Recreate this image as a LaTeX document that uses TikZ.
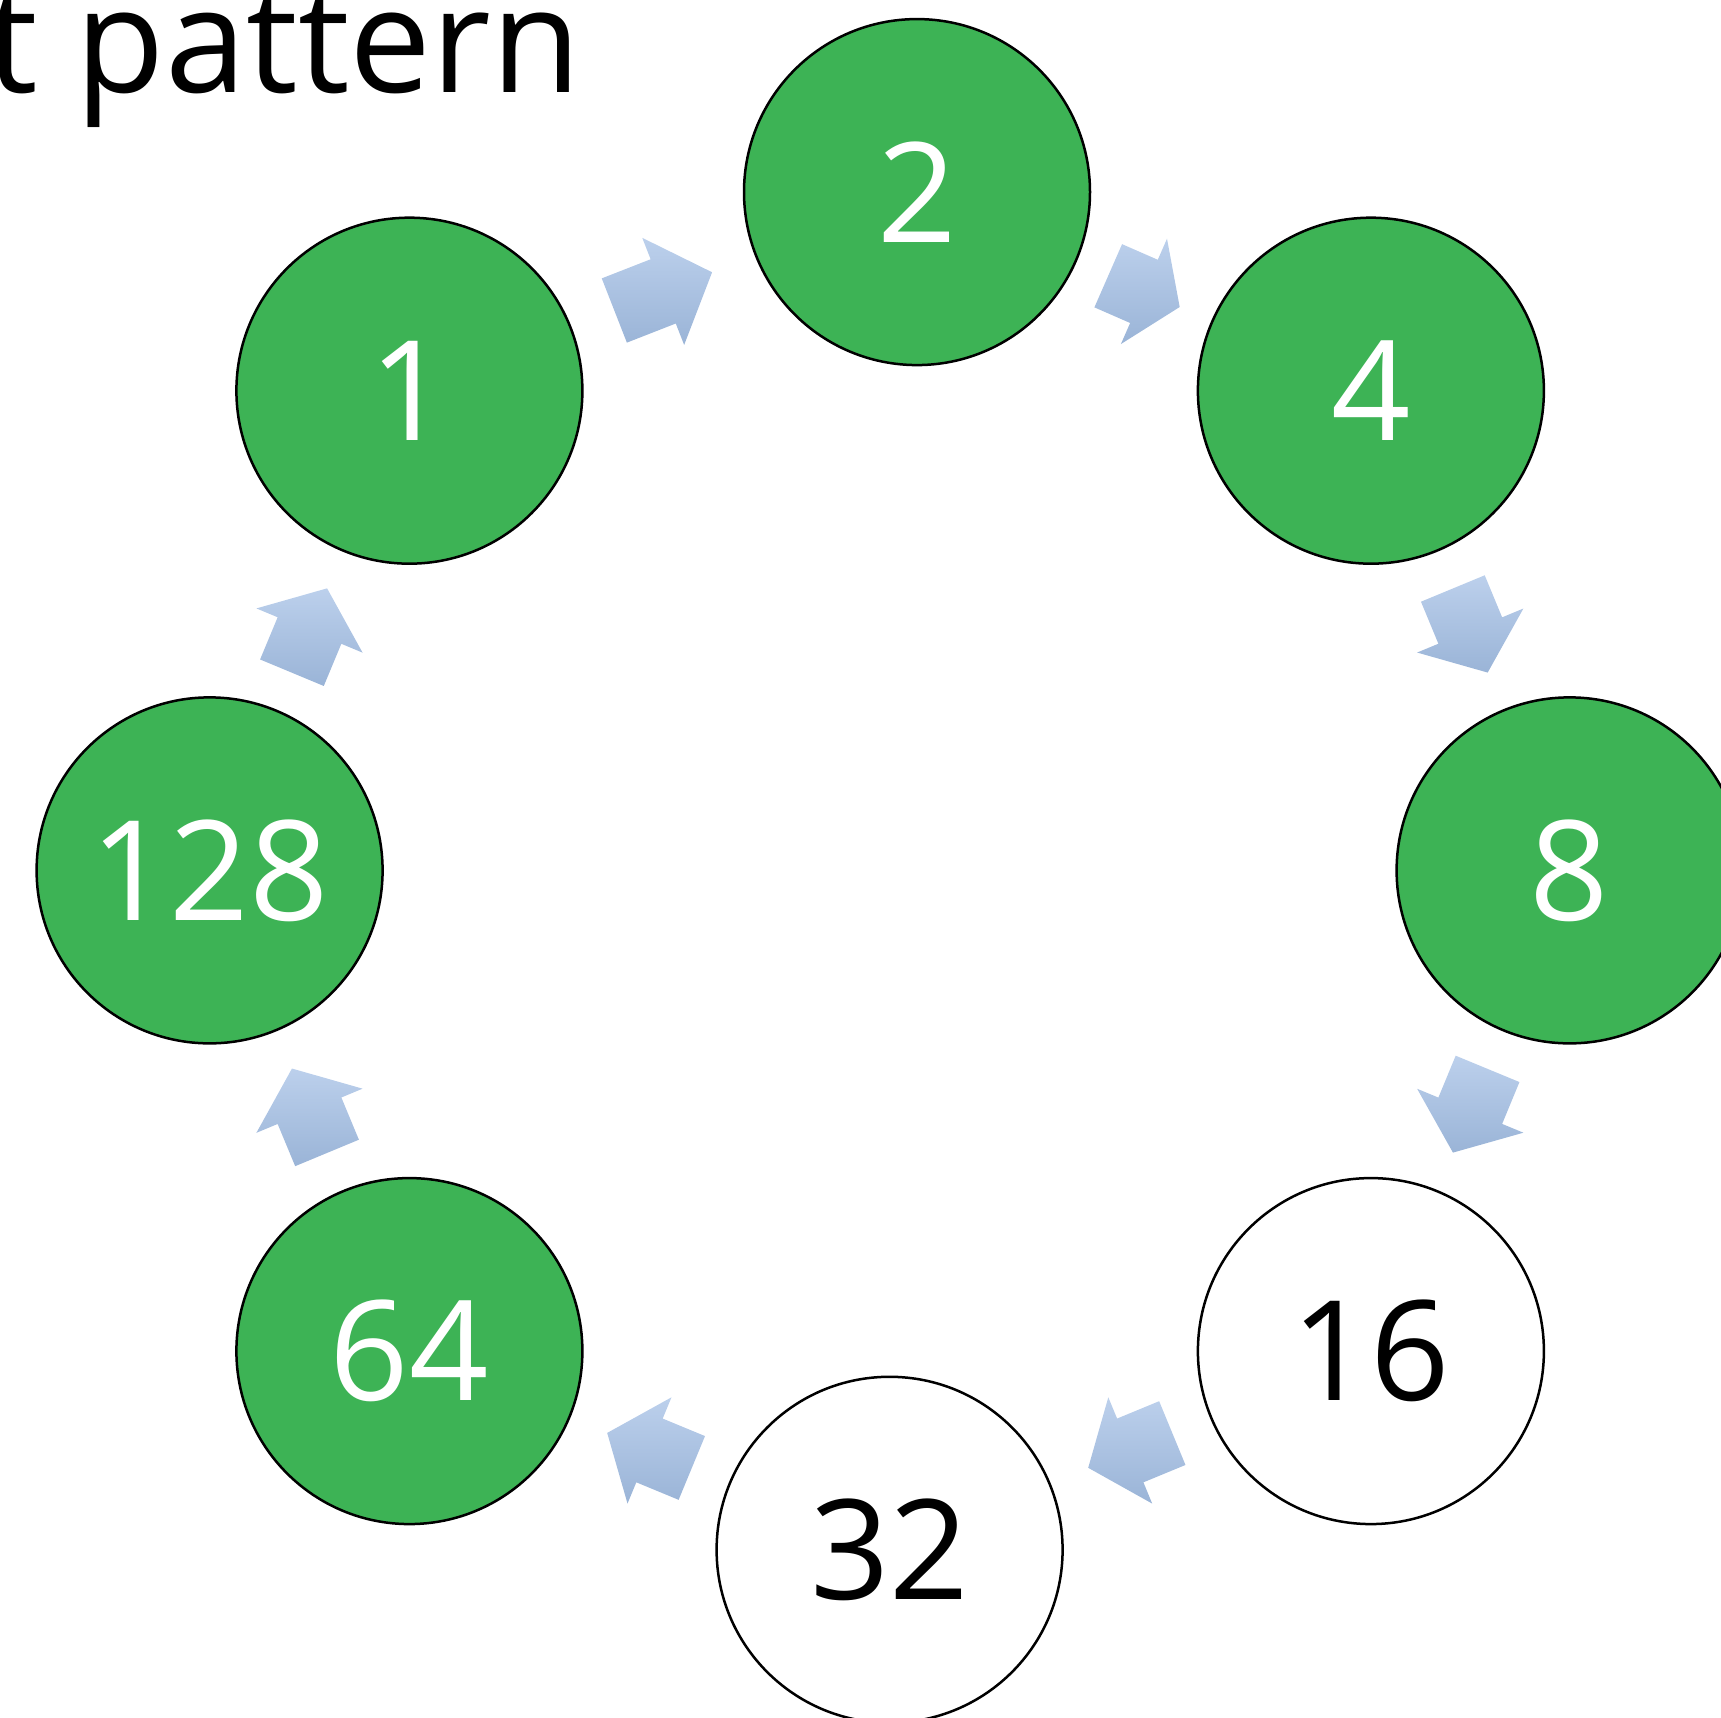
\documentclass[tikz,border=0pt]{standalone}
\usepackage{fontspec}
\setmainfont{Open Sans}
\usetikzlibrary{calc}
\definecolor{nodegreen}{RGB}{61,179,85}
\definecolor{arrtop}{RGB}{188,208,236}
\definecolor{arrbot}{RGB}{154,180,215}
\tikzset{
  numnode/.style={circle, draw=black, line width=2.5pt, minimum size=346pt, inner sep=0pt,
    font=\fontsize{139}{150}\selectfont},
  greennode/.style={numnode, fill=nodegreen, text=white},
  whitenode/.style={numnode, fill=white, text=black},
  arrowshade/.style={top color=arrtop, bottom color=arrbot, draw=none},
  titletext/.style={inner sep=0pt, font=\fontsize{146}{160}\selectfont}
}
\newcommand{\blockarrow}[3]{%
  \coordinate (am) at ($(#1)!0.5!(#2)$);
  \coordinate (at) at ($(am)!-#3!(#2)$);
  \coordinate (ah) at ($(am)!#3!(#2)$);
  \path[arrowshade] ($(at)!34.5pt!90:(#2)$) -- ($(am)!34.5pt!90:(#2)$) -- ($(am)!57.5pt!90:(#2)$)
    -- (ah) -- ($(am)!57.5pt!-90:(#2)$) -- ($(am)!34.5pt!-90:(#2)$) -- ($(at)!34.5pt!-90:(#2)$) -- cycle;
}
\begin{document}
\begin{tikzpicture}[x=1pt,y=1pt]
\useasboundingbox (0,0) rectangle (1721,1718);
\node[titletext, anchor=base east] (title) at (581,1625.5) {t pattern};
\node[greennode] (n1) at (409.4,1327.3) {1};
\node[greennode] (n2) at (917,1525.9) {2};
\node[greennode] (n4) at (1370.9,1327.3) {4};
\node[greennode] (n8) at (1569.6,847.6) {8};
\node[whitenode] (n16) at (1370.9,366.9) {16};
\node[whitenode] (n32) at (889.6,168.2) {32};
\node[greennode] (n64) at (409.4,366.9) {64};
\node[greennode] (n128) at (209.6,847.6) {128};
\blockarrow{n1}{n2}{52.5pt}
\blockarrow{n2}{n4}{39pt}
\blockarrow{n4}{n8}{45.5pt}
\blockarrow{n8}{n16}{45.3pt}
\blockarrow{n16}{n32}{45.5pt}
\blockarrow{n32}{n64}{45.8pt}
\blockarrow{n64}{n128}{45.7pt}
\blockarrow{n128}{n1}{45.7pt}
\end{tikzpicture}
\end{document}
